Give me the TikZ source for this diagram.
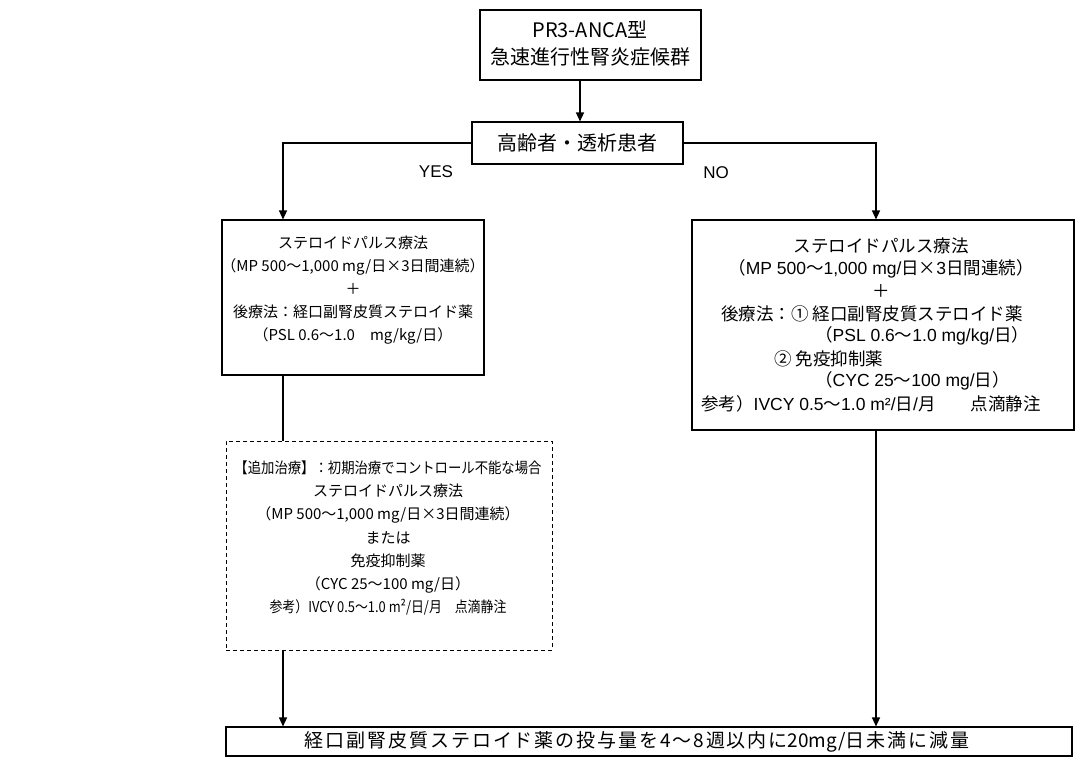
\documentclass[tikz,border=0pt]{standalone}
\usepackage{fontspec}
\usepackage{graphicx}
\setmainfont{Noto Sans CJK JP}
\newfontfamily\lat{Liberation Sans}
\newfontfamily\widecjk[LetterSpace=10]{Noto Sans CJK JP}
\newcommand{\la}[1]{{\lat #1}}
\usetikzlibrary{arrows.meta}
\begin{document}
\begin{tikzpicture}[x=1pt,y=-1pt,
  box/.style={draw, line width=1.1pt, inner sep=0pt},
  dbox/.style={draw, dashed, dash pattern=on 4pt off 3pt, line width=0.9pt, inner sep=0pt},
  txt/.style={inner sep=0pt, align=center, font=\fontsize{15}{23}\selectfont},
  rtxt/.style={inner sep=0pt, align=center, font=\fontsize{17.5}{23}\selectfont},
  dtx/.style={inner sep=0pt, align=center, font=\fontsize{15}{23.3}\selectfont},
  btx/.style={inner sep=0pt, align=center, font=\widecjk\fontsize{19}{23}\selectfont},
  ttl/.style={inner sep=0pt, align=center, font=\fontsize{20}{27}\selectfont},
  lab/.style={inner sep=0pt, font=\lat\fontsize{17}{20}\selectfont},
  arr/.style={line width=1.2pt, -{Triangle[length=9pt,width=8pt]}},
  ln/.style={line width=1.2pt}]
\useasboundingbox (0,0) rectangle (1090,761);

% boxes
\node[box, minimum width=221pt, minimum height=70pt] (top) at (590.5,45) {};
\node[box, minimum width=211pt, minimum height=42pt] (dec) at (577.5,143) {};
\node[box, minimum width=262pt, minimum height=155pt] (lbox) at (353,297.5) {};
\node[box, minimum width=382pt, minimum height=210pt] (rbox) at (883,325) {};
\node[dbox, minimum width=326pt, minimum height=209pt] (dbx) at (389,545.5) {};
\node[box, minimum width=846pt, minimum height=29pt] (bot) at (649,741.5) {};

% texts
\node[ttl] (toptxt) at (590,43.5) {PR3-ANCA型\\急速進行性腎炎症候群};
\node[ttl] (dectxt) at (577,143) {高齢者・透析患者};
\node[lab] (yes) at (436,172) {YES};
\node[lab] (no) at (716,173) {NO};

\node[txt] (ltxt) at (353,290.5) {ステロイドパルス療法\\（MP 500～1,000 mg/日×3日間連続）\\＋\\後療法：経口副腎皮質ステロイド薬\\（PSL 0.6～1.0　mg/kg/日）};

\node[rtxt] (r1) at (881,246) {ステロイドパルス療法};
\node[rtxt] (r2) at (881,269) {（\la{MP 500}～\la{1,000 mg/}日×\la{3}日間連続）};
\node[rtxt] (r3) at (881,291) {＋};
\node[rtxt,anchor=west] (r4) at (721,314) {後療法：① 経口副腎皮質ステロイド薬};
\node[rtxt,anchor=west] (r5) at (815,336) {（\la{PSL 0.6}～\la{1.0 mg/kg/}日）};
\node[rtxt,anchor=west] (r6) at (774,359) {② 免疫抑制薬};
\node[rtxt,anchor=west] (r7) at (815,381) {（\la{CYC 25}～\la{100 mg/}日）};
\node[rtxt,anchor=west] (r8) at (701,404) {参考）\la{IVCY 0.5}～\la{1.0 m²/}日\la{/}月\hspace{2em}点滴静注};

\node[dtx] (dtxt) at (388,538) {\scalebox{0.89}[1]{【追加治療】：初期治療でコントロール不能な場合}\\ステロイドパルス療法\\（MP 500～1,000 mg/日×3日間連続）\\または\\免疫抑制薬\\（CYC 25～100 mg/日）\\\scalebox{0.86}[1]{参考）IVCY 0.5～1.0 m²/日/月　点滴静注}};

\node[btx] (btxt) at (637,742) {経口副腎皮質ステロイド薬の投与量を4～8週以内に{\normalfont 20mg/}日未満に減量};

% connectors
\coordinate (c1) at (580,0);
\coordinate (cL) at (283,0);
\coordinate (cR) at (876,0);
\draw[arr] (c1 |- top.south) -- (c1 |- dec.north);
\draw[arr] (dec.west) -| (cL |- lbox.north);
\draw[arr] (dec.east) -| (cR |- rbox.north);
\draw[ln] (cL |- lbox.south) -- (cL |- dbx.north);
\draw[arr] (cL |- dbx.south) -- (cL |- bot.north);
\draw[arr] (cR |- rbox.south) -- (cR |- bot.north);
\end{tikzpicture}
\end{document}
